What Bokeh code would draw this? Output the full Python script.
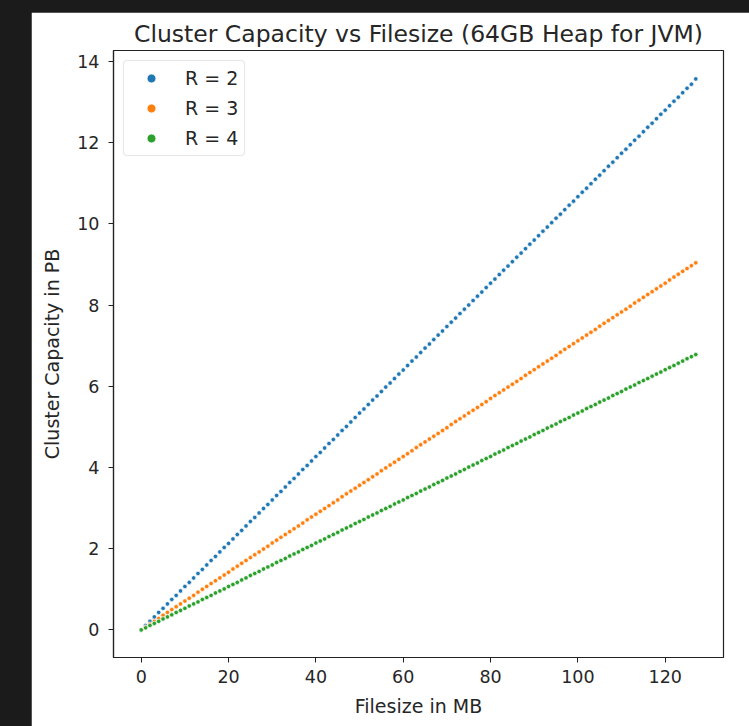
from bokeh.plotting import figure
from bokeh.models import Range1d, Legend, LegendItem, ColumnDataSource
from bokeh.embed import file_html
from bokeh.resources import INLINE

# ---- data ----
filesize_mb = [
    0, 1, 2, 3, 4, 5, 6, 7, 8, 9, 10, 11, 12, 13, 14, 15,
    16, 17, 18, 19, 20, 21, 22, 23, 24, 25, 26, 27, 28, 29, 30, 31,
    32, 33, 34, 35, 36, 37, 38, 39, 40, 41, 42, 43, 44, 45, 46, 47,
    48, 49, 50, 51, 52, 53, 54, 55, 56, 57, 58, 59, 60, 61, 62, 63,
    64, 65, 66, 67, 68, 69, 70, 71, 72, 73, 74, 75, 76, 77, 78, 79,
    80, 81, 82, 83, 84, 85, 86, 87, 88, 89, 90, 91, 92, 93, 94, 95,
    96, 97, 98, 99, 100, 101, 102, 103, 104, 105, 106, 107, 108, 109, 110, 111,
    112, 113, 114, 115, 116, 117, 118, 119, 120, 121, 122, 123, 124, 125, 126, 127,
]

capacity_r2 = [
    0.00, 0.11, 0.21, 0.32, 0.43, 0.53, 0.64, 0.75, 0.85, 0.96, 1.07, 1.17, 1.28, 1.39, 1.49, 1.60,
    1.71, 1.81, 1.92, 2.03, 2.13, 2.24, 2.35, 2.45, 2.56, 2.67, 2.77, 2.88, 2.99, 3.09, 3.20, 3.31,
    3.41, 3.52, 3.63, 3.73, 3.84, 3.95, 4.05, 4.16, 4.27, 4.37, 4.48, 4.59, 4.69, 4.80, 4.91, 5.01,
    5.12, 5.23, 5.34, 5.44, 5.55, 5.66, 5.76, 5.87, 5.98, 6.08, 6.19, 6.30, 6.40, 6.51, 6.62, 6.72,
    6.83, 6.94, 7.04, 7.15, 7.26, 7.36, 7.47, 7.58, 7.68, 7.79, 7.90, 8.00, 8.11, 8.22, 8.32, 8.43,
    8.54, 8.64, 8.75, 8.86, 8.96, 9.07, 9.18, 9.28, 9.39, 9.50, 9.60, 9.71, 9.82, 9.92, 10.03, 10.14,
    10.24, 10.35, 10.46, 10.56, 10.67, 10.78, 10.88, 10.99, 11.10, 11.20, 11.31, 11.42, 11.52, 11.63, 11.74, 11.84,
    11.95, 12.06, 12.16, 12.27, 12.38, 12.48, 12.59, 12.70, 12.80, 12.91, 13.02, 13.12, 13.23, 13.34, 13.44, 13.57,
]

capacity_r3 = [
    0.00, 0.07, 0.14, 0.21, 0.28, 0.36, 0.43, 0.50, 0.57, 0.64, 0.71, 0.78, 0.85, 0.93, 1.00, 1.07,
    1.14, 1.21, 1.28, 1.35, 1.42, 1.50, 1.57, 1.64, 1.71, 1.78, 1.85, 1.92, 1.99, 2.06, 2.14, 2.21,
    2.28, 2.35, 2.42, 2.49, 2.56, 2.63, 2.71, 2.78, 2.85, 2.92, 2.99, 3.06, 3.13, 3.20, 3.28, 3.35,
    3.42, 3.49, 3.56, 3.63, 3.70, 3.77, 3.84, 3.92, 3.99, 4.06, 4.13, 4.20, 4.27, 4.34, 4.41, 4.49,
    4.56, 4.63, 4.70, 4.77, 4.84, 4.91, 4.98, 5.06, 5.13, 5.20, 5.27, 5.34, 5.41, 5.48, 5.55, 5.62,
    5.70, 5.77, 5.84, 5.91, 5.98, 6.05, 6.12, 6.19, 6.27, 6.34, 6.41, 6.48, 6.55, 6.62, 6.69, 6.76,
    6.84, 6.91, 6.98, 7.05, 7.12, 7.19, 7.26, 7.33, 7.40, 7.48, 7.55, 7.62, 7.69, 7.76, 7.83, 7.90,
    7.97, 8.05, 8.12, 8.19, 8.26, 8.33, 8.40, 8.47, 8.54, 8.62, 8.69, 8.76, 8.83, 8.90, 8.97, 9.04,
]

capacity_r4 = [
    0.00, 0.05, 0.11, 0.16, 0.21, 0.27, 0.32, 0.37, 0.43, 0.48, 0.53, 0.59, 0.64, 0.69, 0.75, 0.80,
    0.85, 0.91, 0.96, 1.01, 1.07, 1.12, 1.17, 1.23, 1.28, 1.34, 1.39, 1.44, 1.50, 1.55, 1.60, 1.66,
    1.71, 1.76, 1.82, 1.87, 1.92, 1.98, 2.03, 2.08, 2.14, 2.19, 2.24, 2.30, 2.35, 2.40, 2.46, 2.51,
    2.56, 2.62, 2.67, 2.72, 2.78, 2.83, 2.88, 2.94, 2.99, 3.04, 3.10, 3.15, 3.20, 3.26, 3.31, 3.36,
    3.42, 3.47, 3.52, 3.58, 3.63, 3.68, 3.74, 3.79, 3.84, 3.90, 3.95, 4.01, 4.06, 4.11, 4.17, 4.22,
    4.27, 4.33, 4.38, 4.43, 4.49, 4.54, 4.59, 4.65, 4.70, 4.75, 4.81, 4.86, 4.91, 4.97, 5.02, 5.07,
    5.13, 5.18, 5.23, 5.29, 5.34, 5.39, 5.45, 5.50, 5.55, 5.61, 5.66, 5.71, 5.77, 5.82, 5.87, 5.93,
    5.98, 6.03, 6.09, 6.14, 6.19, 6.25, 6.30, 6.35, 6.41, 6.46, 6.51, 6.57, 6.62, 6.68, 6.73, 6.78,
]

series_labels = ["R = 2", "R = 3", "R = 4"]
series_colors = ["#1f77b4", "#ff7f0e", "#2ca02c"]
x_ticks = [0, 20, 40, 60, 80, 100, 120]
y_ticks = [0, 2, 4, 6, 8, 10, 12, 14]

FONT = "DejaVu Sans"
TXT = "#262626"

p = figure(
    width=718, height=714,
    output_backend="svg", toolbar_location=None,
    x_range=Range1d(-6.35, 133.35), y_range=Range1d(-0.68, 14.27),
    min_border_left=82, min_border_right=26, min_border_top=38, min_border_bottom=69,
    title="Cluster Capacity vs Filesize (64GB Heap for JVM)",
)
p.margin = (12, 0, 0, 31)
p.border_fill_color = "white"
p.background_fill_color = "white"
p.outline_line_color = "#222222"
p.outline_line_width = 1.2
p.grid.visible = False

p.title.align = "center"
p.title.text_font = FONT
p.title.text_font_size = "23.5px"
p.title.text_font_style = "normal"
p.title.text_color = TXT
p.title.offset = 0
p.title.standoff = 6

for ax in (p.xaxis[0], p.yaxis[0]):
    ax.axis_line_color = "#222222"
    ax.axis_line_width = 1.2
    ax.major_tick_line_color = "#222222"
    ax.major_tick_out = 5
    ax.major_tick_in = 0
    ax.minor_tick_line_color = None
    ax.major_label_text_font = FONT
    ax.major_label_text_font_size = "17.5px"
    ax.major_label_text_color = TXT
    ax.axis_label_text_font = FONT
    ax.axis_label_text_font_size = "19px"
    ax.axis_label_text_font_style = "normal"
    ax.axis_label_text_color = TXT

p.xaxis.ticker = x_ticks
p.yaxis.ticker = y_ticks
p.xaxis.axis_label = "Filesize in MB"
p.yaxis.axis_label = "Cluster Capacity in PB"
p.xaxis.major_label_standoff = 7
p.xaxis.axis_label_standoff = 9
p.yaxis.major_label_standoff = 9
p.yaxis.axis_label_standoff = 11

items = []
for label, color, ys in zip(series_labels, series_colors, [capacity_r2, capacity_r3, capacity_r4]):
    src = ColumnDataSource(dict(x=filesize_mb, y=ys))
    r = p.scatter("x", "y", source=src, size=4.5, fill_color=color, line_color="white",
                  line_width=0.7, marker="circle")
    items.append(LegendItem(label=label, renderers=[r]))

legend = Legend(items=items, location="top_left")
legend.margin = 10
legend.padding = 6
legend.spacing = 8
legend.glyph_height = 22
legend.glyph_width = 42
legend.label_standoff = 13
legend.label_text_font = FONT
legend.label_text_font_size = "19px"
legend.label_text_color = TXT
legend.border_line_color = "#d0d0d0"
legend.border_line_width = 1
legend.border_radius = 4
legend.background_fill_color = "white"
legend.background_fill_alpha = 0.8
p.add_layout(legend, "center")

html = file_html(p, INLINE)
html = html.replace(
    "</head>",
    "<style>html,body{margin:0;padding:0;background:#1b1b1b;overflow:hidden}</style></head>",
    1,
)
with open("out.html", "w") as f:
    f.write(html)
